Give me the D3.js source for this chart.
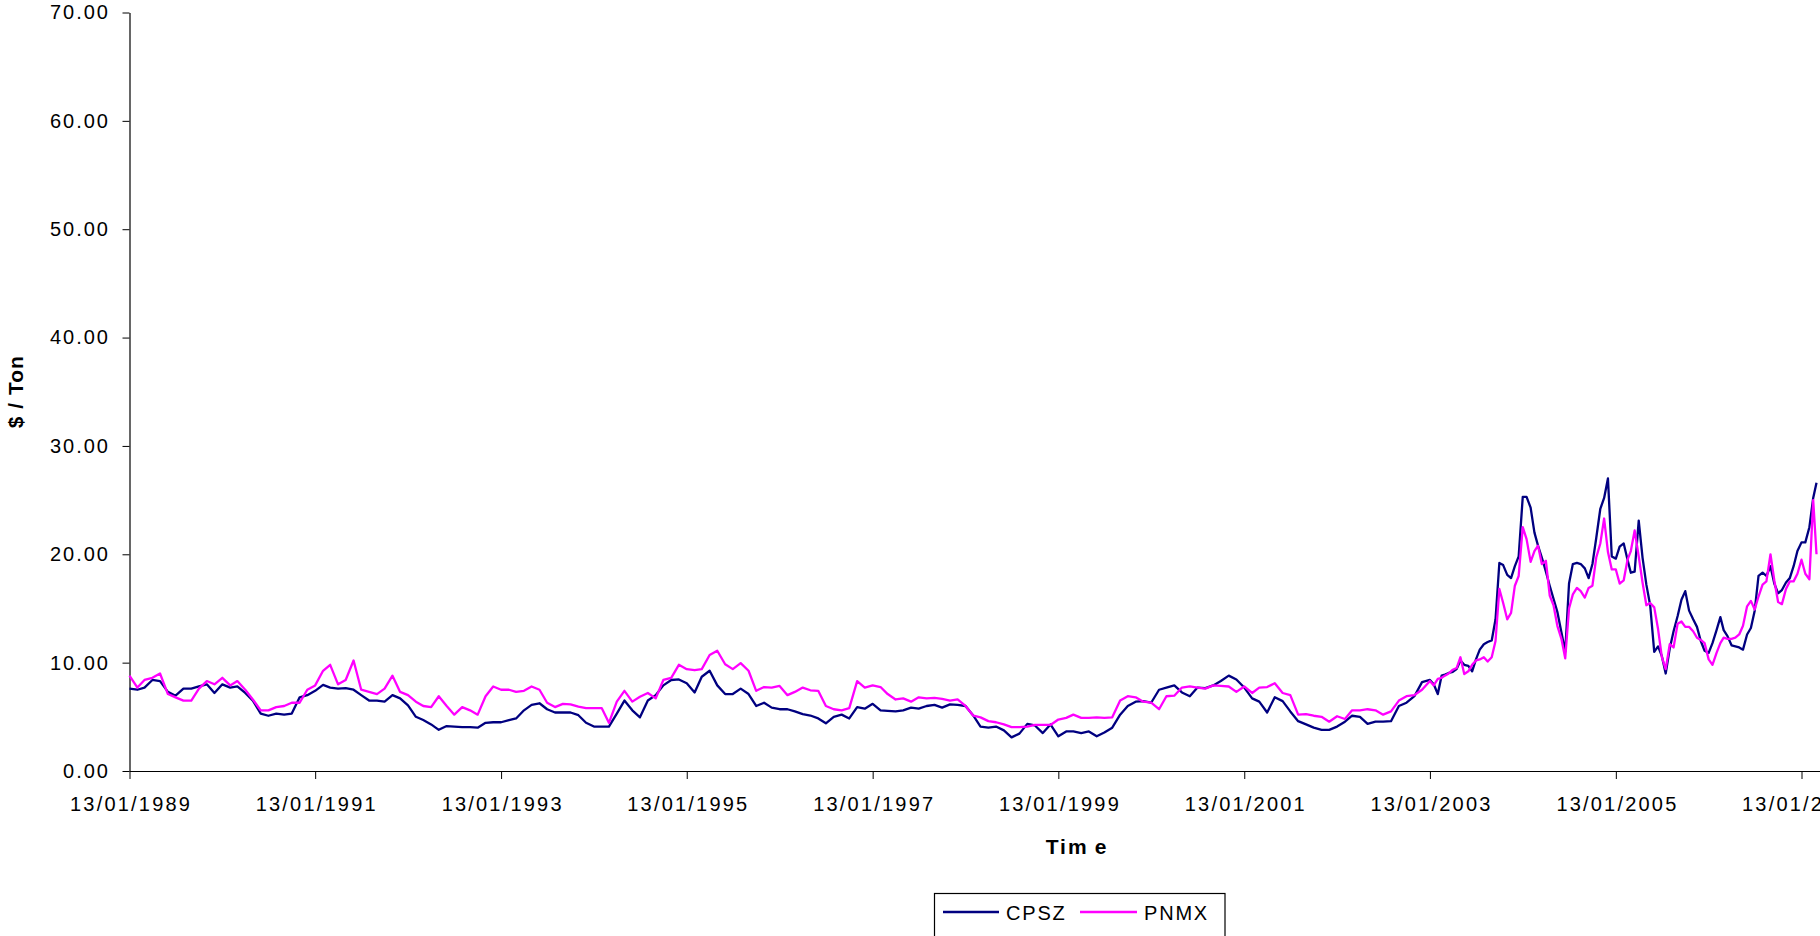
<!DOCTYPE html>
<html>
<head>
<meta charset="utf-8">
<script src="https://cdn.jsdelivr.net/npm/d3@7"></script>
<style>
  html, body { margin: 0; padding: 0; background: #ffffff; overflow: hidden; }
  svg { display: block; font-family: "Liberation Sans", Arial, sans-serif; }
</style>
</head>
<body>
<svg id="chart" width="1820" height="936"></svg>
<script>
// ---- data -----------------------------------------------------------------
const seriesNames = ["CPSZ", "PNMX"];
const seriesColors = ["#000080", "#FF00FF"];

const xTickDates = ["1989-01-13", "1991-01-13", "1993-01-13", "1995-01-13",
                    "1997-01-13", "1999-01-13", "2001-01-13", "2003-01-13", "2007-01-13", "2005-01-13"];
const yTickValues = [0, 10, 20, 30, 40, 50, 60, 70];

// Observation dates: the 13th of each month from Jan 1989 to Dec 2002,
// then the 13th and 28th of each month from Jan 2003 to 13 Mar 2007.
const dates = [];
for (let i = 0; i < 168; i++) dates.push(new Date(1989, i, 13));
for (let i = 0; i < 50; i++) { dates.push(new Date(2003, i, 13)); dates.push(new Date(2003, i, 28)); }
dates.push(new Date(2007, 2, 13));

// CPSZ, $/ton
const cpsz = [
  7.6, 7.5, 7.7, 8.4, 8.3, 7.3, 6.95, 7.6, 7.6, 7.8, 8.0, 7.2,          // 1989
  8.0, 7.7, 7.8, 7.2, 6.5, 5.3, 5.1, 5.3, 5.2, 5.3, 6.8, 7.0,           // 1990
  7.4, 7.95, 7.7, 7.6, 7.65, 7.5, 7.0, 6.5, 6.5, 6.4, 7.0, 6.7,         // 1991
  6.05, 5.0, 4.7, 4.3, 3.8, 4.15, 4.1, 4.05, 4.05, 4.0, 4.45, 4.5,      // 1992
  4.5, 4.7, 4.85, 5.6, 6.1, 6.25, 5.7, 5.4, 5.4, 5.4, 5.15, 4.45,       // 1993
  4.1, 4.1, 4.1, 5.3, 6.5, 5.6, 4.95, 6.5, 7.0, 7.9, 8.4, 8.45,         // 1994
  8.1, 7.25, 8.7, 9.25, 7.9, 7.1, 7.1, 7.6, 7.1, 6.0, 6.3, 5.85,        // 1995
  5.7, 5.7, 5.5, 5.25, 5.12, 4.85, 4.4, 5.0, 5.2, 4.85, 5.9, 5.75,      // 1996
  6.2, 5.6, 5.55, 5.5, 5.6, 5.85, 5.75, 6.0, 6.1, 5.85, 6.15, 6.1,      // 1997
  6.0, 5.1, 4.1, 4.0, 4.1, 3.75, 3.1, 3.45, 4.35, 4.2, 3.5, 4.3,        // 1998
  3.2, 3.65, 3.65, 3.5, 3.65, 3.2, 3.55, 4.0, 5.2, 6.0, 6.4, 6.45,      // 1999
  6.3, 7.5, 7.7, 7.9, 7.25, 6.9, 7.7, 7.65, 7.9, 8.3, 8.8, 8.45,        // 2000
  7.7, 6.7, 6.4, 5.4, 6.8, 6.45, 5.5, 4.6, 4.3, 4.0, 3.8, 3.8,          // 2001
  4.1, 4.55, 5.1, 5.0, 4.35, 4.55, 4.55, 4.6, 6.0, 6.3, 6.9, 8.2,       // 2002
  8.4, 8.0, 7.1, 8.8, 8.9, 9.05, 9.15, 9.4, 10.2, 9.8,                  // 2003 (twice monthly)
  9.7, 9.2, 10.3, 11.2, 11.7, 11.9, 12.05, 14.0, 19.2, 19.0,
  18.1, 17.8, 18.9, 19.8, 25.3, 25.3, 24.3, 22.0, 20.8, 19.7,           // 2004
  18.4, 17.1, 15.9, 14.7, 12.8, 11.0, 17.3, 19.1, 19.2, 19.1,
  18.7, 17.8, 19.1, 21.5, 24.2, 25.2, 27.0, 19.8, 19.6, 20.7,           // 2005
  21.0, 19.5, 18.3, 18.4, 23.1, 19.7, 17.2, 15.3, 11.0, 11.5,
  10.6, 9.0, 11.3, 12.9, 14.3, 15.8, 16.6, 14.8, 14.0, 13.3,            // 2006
  12.0, 11.1, 10.9, 11.8, 13.0, 14.2, 13.0, 12.45, 11.6, 11.5,
  11.4, 11.2, 12.6, 13.2, 14.8, 18.0, 18.3, 18.0, 18.9, 17.3,
  16.4, 16.7, 17.4, 17.8, 18.9, 20.3, 21.1, 21.1, 22.5, 25.2,           // 2007
  26.6
];

// PNMX, $/ton
const pnmx = [
  8.8, 7.7, 8.4, 8.6, 9.0, 7.1, 6.8, 6.5, 6.5, 7.6, 8.3, 8.0,           // 1989
  8.6, 7.9, 8.3, 7.5, 6.6, 5.6, 5.6, 5.9, 6.0, 6.3, 6.3, 7.5,           // 1990
  7.9, 9.25, 9.8, 8.0, 8.4, 10.2, 7.5, 7.3, 7.1, 7.6, 8.8, 7.3,         // 1991
  7.0, 6.4, 6.0, 5.9, 6.9, 6.0, 5.2, 5.9, 5.6, 5.2, 6.9, 7.8,           // 1992
  7.5, 7.5, 7.3, 7.4, 7.8, 7.5, 6.3, 5.9, 6.2, 6.15, 5.95, 5.8,         // 1993
  5.8, 5.8, 4.45, 6.4, 7.4, 6.4, 6.85, 7.2, 6.7, 8.4, 8.6, 9.8,         // 1994
  9.4, 9.3, 9.4, 10.7, 11.1, 9.85, 9.4, 9.95, 9.25, 7.4, 7.75, 7.7,     // 1995
  7.85, 7.0, 7.3, 7.7, 7.45, 7.4, 6.0, 5.7, 5.6, 5.8, 8.3, 7.7,         // 1996
  7.9, 7.75, 7.1, 6.6, 6.7, 6.4, 6.8, 6.7, 6.75, 6.65, 6.5, 6.6,        // 1997
  6.0, 5.1, 4.95, 4.6, 4.5, 4.3, 4.05, 4.05, 4.1, 4.25, 4.25, 4.25,     // 1998
  4.75, 4.9, 5.2, 4.9, 4.9, 4.95, 4.9, 4.95, 6.5, 6.9, 6.8, 6.4,        // 1999
  6.3, 5.7, 6.9, 6.95, 7.7, 7.8, 7.7, 7.6, 7.9, 7.85, 7.8, 7.3,         // 2000
  7.8, 7.2, 7.7, 7.75, 8.1, 7.2, 7.0, 5.2, 5.25, 5.1, 5.0, 4.55,        // 2001
  5.05, 4.8, 5.6, 5.6, 5.7, 5.6, 5.2, 5.5, 6.5, 6.9, 7.0, 7.5,          // 2002
  8.3, 7.9, 8.5, 8.6, 8.8, 9.0, 9.35, 9.5, 10.5, 8.95,                  // 2003 (twice monthly)
  9.2, 9.8, 10.2, 10.3, 10.5, 10.1, 10.5, 12.0, 16.8, 15.5,
  14.0, 14.6, 17.1, 18.0, 22.5, 21.4, 19.3, 20.3, 20.8, 19.1,           // 2004
  19.4, 16.2, 15.3, 13.4, 12.2, 10.4, 15.0, 16.3, 16.9, 16.6,
  16.0, 16.9, 17.1, 19.7, 21.0, 23.3, 20.2, 18.6, 18.6, 17.3,           // 2005
  17.6, 19.5, 20.3, 22.2, 19.8, 17.4, 15.3, 15.5, 15.1, 13.1,
  10.5, 9.4, 11.7, 11.4, 13.6, 13.8, 13.3, 13.3, 12.9, 12.3,            // 2006
  12.1, 11.8, 10.3, 9.8, 10.9, 11.8, 12.3, 12.2, 12.2, 12.3,
  12.6, 13.4, 15.2, 15.7, 14.9, 16.1, 17.2, 17.5, 20.0, 17.6,
  15.6, 15.4, 16.8, 17.5, 17.5, 18.2, 19.5, 18.2, 17.7, 25.0,           // 2007
  20.0
];

// ---- layout -----------------------------------------------------------------
const svg = d3.select("#chart");
const FONT = "'Liberation Sans', Arial, sans-serif";
const plotLeft = 129.5, plotTop = 12.5, plotBottom = 771;

const x = d3.scaleTime()
  .domain([new Date(1989, 0, 13), new Date(2007, 0, 13)])
  .range([plotLeft, 1801.5]);
// the category axis runs on past the right edge of the page
const xAxisScale = x.copy()
  .domain([x.domain()[0], x.invert(1840)])
  .range([plotLeft, 1840]);

const y = d3.scaleLinear().domain([0, 70]).range([plotBottom, plotTop]);

// ---- axes -----------------------------------------------------------------
const xAxis = svg.append("g")
  .attr("transform", `translate(0,${plotBottom})`)
  .call(d3.axisBottom(xAxisScale)
    .tickValues(xTickDates.map(s => d3.timeParse("%Y-%m-%d")(s)))
    .tickFormat(d3.timeFormat("%d/%m/%Y"))
    .tickSizeInner(8).tickSizeOuter(0).tickPadding(18));
xAxis.select(".domain").attr("stroke", "#000").attr("stroke-width", 1.2);
xAxis.selectAll(".tick line").attr("stroke", "#000");
xAxis.selectAll(".tick text")
  .attr("fill", "#000")
  .attr("font-family", FONT)
  .attr("font-size", 20)
  .attr("letter-spacing", "2.2px")
  .attr("dx", 1.1);

const yAxis = svg.append("g")
  .attr("transform", `translate(${plotLeft},0)`)
  .call(d3.axisLeft(y)
    .tickValues(yTickValues)
    .tickFormat(d3.format(".2f"))
    .tickSizeInner(7).tickSizeOuter(0).tickPadding(12.5));
yAxis.select(".domain").attr("stroke", "#000").attr("stroke-width", 1.2);
yAxis.selectAll(".tick line").attr("stroke", "#000");
yAxis.selectAll(".tick text")
  .attr("fill", "#000")
  .attr("font-family", FONT)
  .attr("font-size", 20)
  .attr("letter-spacing", "2px");

// ---- axis titles -------------------------------------------------------------
svg.append("text")
  .attr("transform", `translate(23,${(plotTop + plotBottom) / 2}) rotate(-90)`)
  .attr("text-anchor", "middle")
  .attr("font-family", FONT)
  .attr("font-weight", "bold")
  .attr("font-size", 21)
  .attr("letter-spacing", "1px")
  .attr("fill", "#000")
  .text("$ / Ton");

const timeTitle = svg.append("text")
  .attr("x", 1077)
  .attr("y", 854)
  .attr("text-anchor", "middle")
  .attr("font-family", FONT)
  .attr("font-weight", "bold")
  .attr("font-size", 21)
  .attr("letter-spacing", "2px")
  .attr("fill", "#000");
timeTitle.append("tspan").text("Tim");
timeTitle.append("tspan").attr("dx", 6).text("e");

// ---- series lines -------------------------------------------------------------
const seriesValues = [cpsz, pnmx];
const line = d3.line()
  .x((d, i) => x(dates[i]))
  .y(d => y(d));

seriesValues.forEach((vals, k) => {
  svg.append("path")
    .datum(vals)
    .attr("fill", "none")
    .attr("stroke", seriesColors[k])
    .attr("stroke-width", 2.3)
    .attr("stroke-linejoin", "round")
    .attr("d", line);
});

// ---- legend -------------------------------------------------------------------
const legend = svg.append("g");
legend.append("rect")
  .attr("x", 934.5).attr("y", 893.5)
  .attr("width", 290.5).attr("height", 80)
  .attr("fill", "#fff").attr("stroke", "#000").attr("stroke-width", 1.2);

const legendItems = [
  { x1: 943, x2: 999, tx: 1006 },
  { x1: 1080, x2: 1137, tx: 1144 }
];
legendItems.forEach((it, k) => {
  legend.append("line")
    .attr("x1", it.x1).attr("x2", it.x2)
    .attr("y1", 912).attr("y2", 912)
    .attr("stroke", seriesColors[k]).attr("stroke-width", 2.3);
  legend.append("text")
    .attr("x", it.tx).attr("y", 919.5)
    .attr("font-family", FONT)
    .attr("font-size", 20)
    .attr("letter-spacing", "1.8px")
    .attr("fill", "#000")
    .text(seriesNames[k]);
});
</script>
</body>
</html>
